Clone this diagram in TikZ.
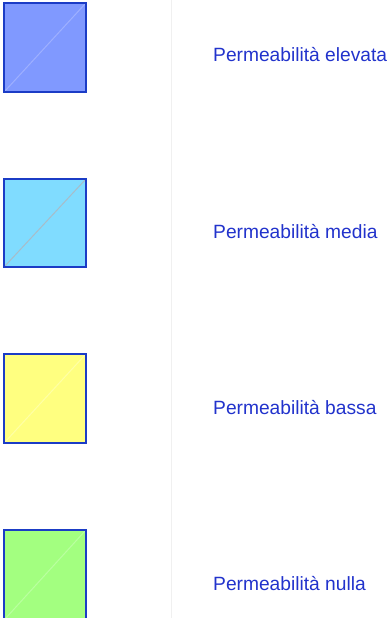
\documentclass[tikz,border=0pt]{standalone}
\usepackage{fontspec}
\setmainfont{Liberation Sans}
\begin{document}
\begin{tikzpicture}[x=1pt,y=1pt,
  swatch/.style={draw=legendborder,line width=2pt},
  lbl/.style={anchor=base west,inner sep=0pt,text=legendtext,font=\fontsize{19.2}{22}\selectfont}]
\definecolor{legendborder}{HTML}{1B3CC6}
\definecolor{legendtext}{HTML}{2233CC}
\definecolor{fillA}{HTML}{8099FF}
\definecolor{fillB}{HTML}{80DCFF}
\definecolor{fillC}{HTML}{FFFF80}
\definecolor{fillD}{HTML}{A3FF80}
\definecolor{diagA}{HTML}{9EB0FF}
\definecolor{diagB}{HTML}{A8BCC8}
\definecolor{diagC}{HTML}{FFFFA6}
\definecolor{diagD}{HTML}{BAFFA0}
\useasboundingbox (0,0) rectangle (390,-618);
\clip (0,0) rectangle (390,-618);
\fill[white] (0,0) rectangle (390,-618);
\draw[color=black!6,line width=1pt] (171,0) -- (171,-618);
% box 1
\path[fill=fillA] (4,-3) rectangle (86,-92);
\draw[diagA,line width=1pt] (5,-91) -- (85,-4);
\draw[swatch] (4,-3) rectangle (86,-92);
\node[lbl] (t1) at (213,-62) {Permeabilità elevata};
% box 2
\path[fill=fillB] (4,-179) rectangle (86,-267);
\draw[diagB,line width=1pt] (5,-266) -- (85,-180);
\draw[swatch] (4,-179) rectangle (86,-267);
\node[lbl] (t2) at (213,-238) {Permeabilità media};
% box 3
\path[fill=fillC] (4,-354) rectangle (86,-443);
\draw[diagC,line width=1pt] (5,-442) -- (85,-355);
\draw[swatch] (4,-354) rectangle (86,-443);
\node[lbl] (t3) at (213,-414) {Permeabilità bassa};
% box 4
\path[fill=fillD] (4,-530) rectangle (86,-620);
\draw[diagD,line width=1pt] (5,-619) -- (85,-531);
\draw[swatch] (4,-530) rectangle (86,-620);
\node[lbl] (t4) at (213,-590) {Permeabilità nulla};
\end{tikzpicture}
\end{document}
